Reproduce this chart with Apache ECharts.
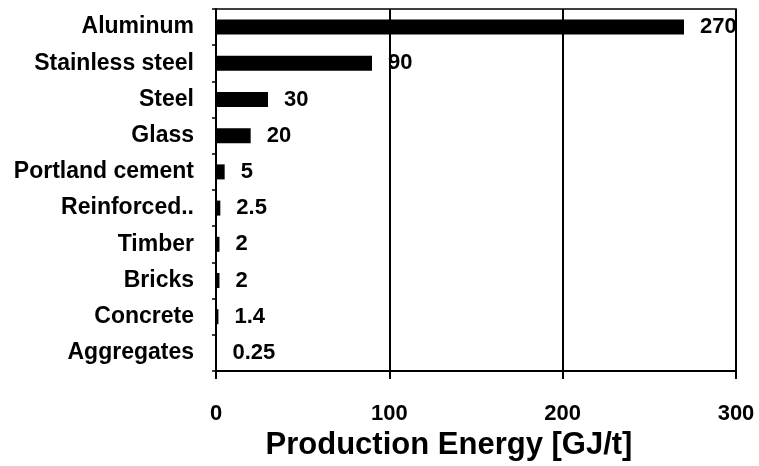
<!DOCTYPE html>
<html>
<head>
<meta charset="utf-8">
<script src="https://cdn.jsdelivr.net/npm/echarts@6/dist/echarts.min.js"></script>
<style>html,body{margin:0;padding:0;background:#fff}#c{width:759px;height:466px}</style>
</head>
<body>
<div id="c"></div>
<script>
const categories = ["Aluminum","Stainless steel","Steel","Glass","Portland cement","Reinforced..","Timber","Bricks","Concrete","Aggregates"];
const values = [270, 90, 30, 20, 5, 2.5, 2, 2, 1.4, 0.25];
const labels = ["270","90","30","20","5","2.5","2","2","1.4","0.25"];
const xTicks = [0, 100, 200, 300];

const font = "'Liberation Sans', Arial, sans-serif";
const chart = echarts.init(document.getElementById('c'));
chart.setOption({
  animation: false,
  backgroundColor: '#fff',
  grid: {left: 216, right: 23, top: 9, bottom: 95, show: true, borderColor: '#000', borderWidth: 1.5, containLabel: false},
  xAxis: {
    type: 'value', min: xTicks[0], max: xTicks[xTicks.length-1], interval: 100,
    axisLine: {show: true, lineStyle: {color: '#000', width: 2}},
    axisTick: {show: true, inside: false, length: 8, lineStyle: {color: '#000', width: 2}},
    axisLabel: {margin: 32, color: '#000', fontFamily: font, fontWeight: 'bold', fontSize: 22},
    splitLine: {show: true, lineStyle: {color: '#000', width: 2}},
    name: 'Production Energy [GJ/t]', nameLocation: 'middle', nameGap: 57,
    nameTextStyle: {color: '#000', fontFamily: font, fontWeight: 'bold', fontSize: 31, padding: [0, 54, 0, 0]}
  },
  yAxis: {
    type: 'category', data: categories, inverse: true,
    axisLine: {show: true, lineStyle: {color: '#000', width: 2}},
    axisTick: {show: true, inside: false, length: 4, lineStyle: {color: '#000', width: 1.5}},
    axisLabel: {margin: 22, color: '#000', fontFamily: font, fontWeight: 'bold', fontSize: 23},
    splitLine: {show: false}
  },
  series: [{
    type: 'bar', data: values, barWidth: 15,
    itemStyle: {color: '#000'},
    label: {show: true, position: 'right', distance: 16, color: '#000', fontFamily: font, fontWeight: 'bold', fontSize: 22,
      formatter: p => labels[p.dataIndex]}
  }]
});
</script>
</body>
</html>
